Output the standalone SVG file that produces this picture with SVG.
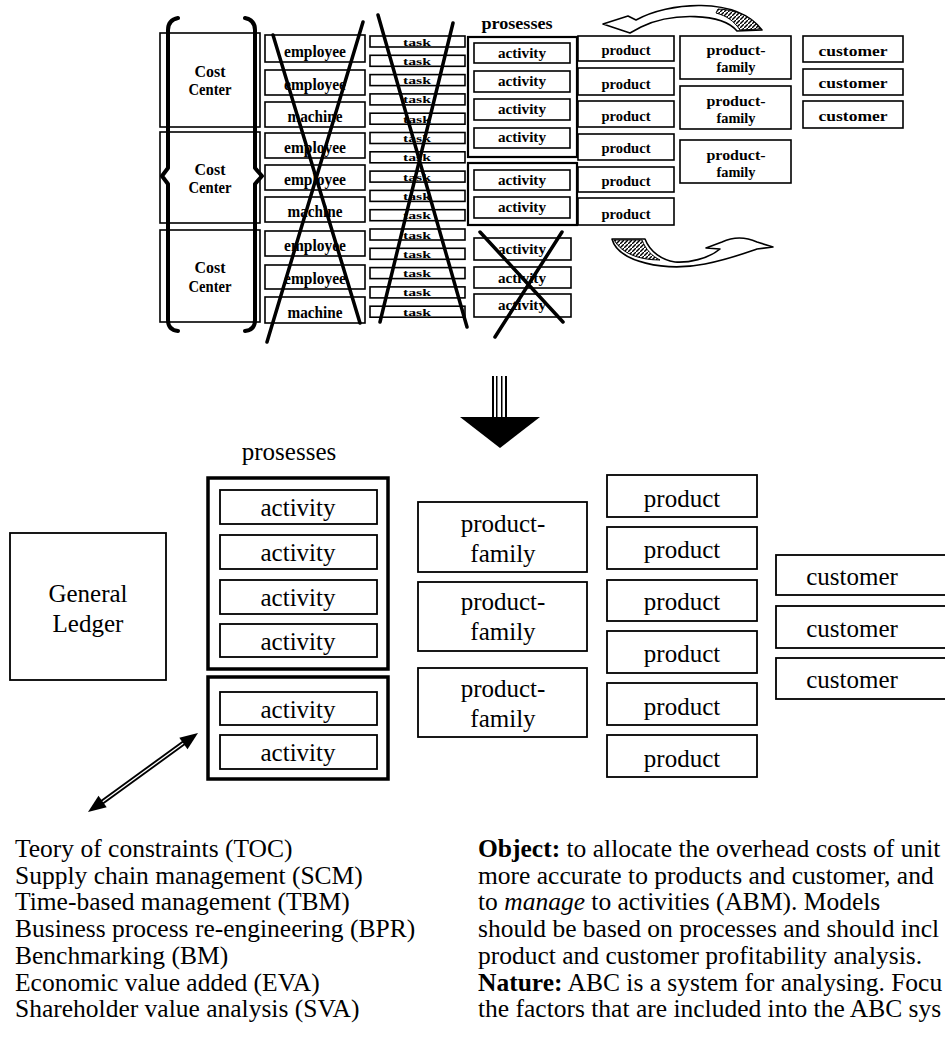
<svg xmlns="http://www.w3.org/2000/svg" width="945" height="1047" viewBox="0 0 945 1047">
  <defs>
    <pattern id="hatch" patternUnits="userSpaceOnUse" width="4" height="4">
      <rect width="4" height="4" fill="#fff"/>
      <path d="M0 4 L4 0" stroke="#000" stroke-width="1.4"/>
    </pattern>
  </defs>
  <style>
    .bx{fill:#fff;stroke:#000;stroke-width:1.6}
    .pb{fill:none;stroke:#000;stroke-width:2.2}
    .pbb{fill:none;stroke:#000;stroke-width:3.5}
    .bb{fill:#fff;stroke:#000;stroke-width:1.8}
    .s{font-family:"Liberation Serif","Times New Roman",serif;font-weight:bold;text-anchor:middle;fill:#000}
    .l{font-family:"Liberation Serif","Times New Roman",serif;font-size:25px;text-anchor:middle;fill:#000}
    .p{font-family:"Liberation Serif","Times New Roman",serif;font-size:25.5px;fill:#000}
    .x{stroke:#000;stroke-width:3.5;stroke-linecap:round;fill:none}
    .br{stroke:#000;stroke-width:4;fill:none;stroke-linecap:round;stroke-linejoin:round}
    .ar{fill:#fff;stroke:#000;stroke-width:1.6;stroke-linejoin:round}
  </style>
  <rect width="945" height="1047" fill="#fff"/>

  <!-- ===== upper model: cost centers → resources → tasks → activities ===== -->
  <g id="cost-centers">
    <rect class="bx" x="160" y="33" width="100" height="94"/>
    <rect class="bx" x="160" y="132" width="100" height="91"/>
    <rect class="bx" x="160" y="230" width="100" height="92"/>
    <text class="s" font-size="16" x="210" y="77" textLength="31" lengthAdjust="spacingAndGlyphs">Cost</text>
    <text class="s" font-size="16" x="210" y="95" textLength="43" lengthAdjust="spacingAndGlyphs">Center</text>
    <text class="s" font-size="16" x="210" y="175" textLength="31" lengthAdjust="spacingAndGlyphs">Cost</text>
    <text class="s" font-size="16" x="210" y="193" textLength="43" lengthAdjust="spacingAndGlyphs">Center</text>
    <text class="s" font-size="16" x="210" y="273" textLength="31" lengthAdjust="spacingAndGlyphs">Cost</text>
    <text class="s" font-size="16" x="210" y="292" textLength="43" lengthAdjust="spacingAndGlyphs">Center</text>
    <!-- braces -->
    <path class="br" d="M178 18 Q168 20 168 30 L168 168 L162 176 L168 184 L168 320 Q168 330 178 331"/>
    <path class="br" d="M245 18 Q255 20 255 30 L255 168 L262 176 L255 184 L255 320 Q255 330 245 331"/>
  </g>

  <g id="resources">
    <rect class="bx" x="265" y="35" width="100" height="27"/>
    <rect class="bx" x="265" y="70" width="100" height="25"/>
    <rect class="bx" x="265" y="102" width="100" height="25"/>
    <rect class="bx" x="265" y="133" width="100" height="25"/>
    <rect class="bx" x="265" y="165" width="100" height="25"/>
    <rect class="bx" x="265" y="197" width="100" height="25"/>
    <rect class="bx" x="265" y="231" width="100" height="25"/>
    <rect class="bx" x="265" y="265" width="100" height="24"/>
    <rect class="bx" x="265" y="297" width="100" height="26"/>
    <text class="s" font-size="17" x="315" y="57" textLength="62" lengthAdjust="spacingAndGlyphs">employee</text>
    <text class="s" font-size="17" x="315" y="90" textLength="62" lengthAdjust="spacingAndGlyphs">employee</text>
    <text class="s" font-size="17" x="315" y="122" textLength="55" lengthAdjust="spacingAndGlyphs">machine</text>
    <text class="s" font-size="17" x="315" y="153" textLength="62" lengthAdjust="spacingAndGlyphs">employee</text>
    <text class="s" font-size="17" x="315" y="185" textLength="62" lengthAdjust="spacingAndGlyphs">employee</text>
    <text class="s" font-size="17" x="315" y="217" textLength="55" lengthAdjust="spacingAndGlyphs">machine</text>
    <text class="s" font-size="17" x="315" y="251" textLength="62" lengthAdjust="spacingAndGlyphs">employee</text>
    <text class="s" font-size="17" x="315" y="284" textLength="62" lengthAdjust="spacingAndGlyphs">employee</text>
    <text class="s" font-size="17" x="315" y="318" textLength="55" lengthAdjust="spacingAndGlyphs">machine</text>
  </g>

  <g id="tasks">
    <rect class="bx" x="370" y="36" width="95" height="11"/>
    <rect class="bx" x="370" y="55.3" width="95" height="11"/>
    <rect class="bx" x="370" y="74.6" width="95" height="11"/>
    <rect class="bx" x="370" y="93.9" width="95" height="11"/>
    <rect class="bx" x="370" y="113.2" width="95" height="11"/>
    <rect class="bx" x="370" y="132.5" width="95" height="11"/>
    <rect class="bx" x="370" y="151.8" width="95" height="11"/>
    <rect class="bx" x="370" y="171.1" width="95" height="11"/>
    <rect class="bx" x="370" y="190.4" width="95" height="11"/>
    <rect class="bx" x="370" y="209.7" width="95" height="11"/>
    <rect class="bx" x="370" y="229" width="95" height="11"/>
    <rect class="bx" x="370" y="248.3" width="95" height="11"/>
    <rect class="bx" x="370" y="267.6" width="95" height="11"/>
    <rect class="bx" x="370" y="286.9" width="95" height="11"/>
    <rect class="bx" x="370" y="306.2" width="95" height="11"/>
    <g class="s" font-size="11">
      <text x="417" y="45.5" textLength="28" lengthAdjust="spacingAndGlyphs">task</text>
      <text x="417" y="64.8" textLength="28" lengthAdjust="spacingAndGlyphs">task</text>
      <text x="417" y="84.1" textLength="28" lengthAdjust="spacingAndGlyphs">task</text>
      <text x="417" y="103.4" textLength="28" lengthAdjust="spacingAndGlyphs">task</text>
      <text x="417" y="122.7" textLength="28" lengthAdjust="spacingAndGlyphs">task</text>
      <text x="417" y="142" textLength="28" lengthAdjust="spacingAndGlyphs">task</text>
      <text x="417" y="161.3" textLength="28" lengthAdjust="spacingAndGlyphs">task</text>
      <text x="417" y="180.6" textLength="28" lengthAdjust="spacingAndGlyphs">task</text>
      <text x="417" y="199.9" textLength="28" lengthAdjust="spacingAndGlyphs">task</text>
      <text x="417" y="219.2" textLength="28" lengthAdjust="spacingAndGlyphs">task</text>
      <text x="417" y="238.5" textLength="28" lengthAdjust="spacingAndGlyphs">task</text>
      <text x="417" y="257.8" textLength="28" lengthAdjust="spacingAndGlyphs">task</text>
      <text x="417" y="277.1" textLength="28" lengthAdjust="spacingAndGlyphs">task</text>
      <text x="417" y="296.4" textLength="28" lengthAdjust="spacingAndGlyphs">task</text>
      <text x="417" y="315.7" textLength="28" lengthAdjust="spacingAndGlyphs">task</text>
    </g>
  </g>

  <g id="processes-top">
    <text class="s" font-size="17" x="517" y="29" textLength="71" lengthAdjust="spacingAndGlyphs">prosesses</text>
    <rect class="pb" x="468" y="37" width="109" height="120"/>
    <rect class="pb" x="468" y="163" width="109" height="62"/>
    <rect class="bx" x="474" y="43" width="96" height="20"/>
    <rect class="bx" x="474" y="71" width="96" height="21"/>
    <rect class="bx" x="474" y="99" width="96" height="21"/>
    <rect class="bx" x="474" y="128" width="96" height="20"/>
    <rect class="bx" x="474" y="170" width="96" height="20"/>
    <rect class="bx" x="474" y="197" width="96" height="21"/>
    <rect class="bx" x="474" y="238" width="97" height="22"/>
    <rect class="bx" x="474" y="267" width="97" height="21"/>
    <rect class="bx" x="474" y="294" width="97" height="23"/>
    <g class="s" font-size="15">
      <text x="522" y="58" textLength="48" lengthAdjust="spacingAndGlyphs">activity</text>
      <text x="522" y="86" textLength="48" lengthAdjust="spacingAndGlyphs">activity</text>
      <text x="522" y="114" textLength="48" lengthAdjust="spacingAndGlyphs">activity</text>
      <text x="522" y="142" textLength="48" lengthAdjust="spacingAndGlyphs">activity</text>
      <text x="522" y="185" textLength="48" lengthAdjust="spacingAndGlyphs">activity</text>
      <text x="522" y="212" textLength="48" lengthAdjust="spacingAndGlyphs">activity</text>
      <text x="522" y="254" textLength="48" lengthAdjust="spacingAndGlyphs">activity</text>
      <text x="522" y="283" textLength="48" lengthAdjust="spacingAndGlyphs">activity</text>
      <text x="522" y="310" textLength="48" lengthAdjust="spacingAndGlyphs">activity</text>
    </g>
  </g>

  <g id="products-top">
    <rect class="bx" x="578" y="36" width="96" height="25"/>
    <rect class="bx" x="578" y="68" width="96" height="27"/>
    <rect class="bx" x="578" y="101" width="96" height="26"/>
    <rect class="bx" x="578" y="134" width="96" height="26"/>
    <rect class="bx" x="578" y="167" width="96" height="25"/>
    <rect class="bx" x="578" y="198" width="96" height="27"/>
    <g class="s" font-size="15">
      <text x="626" y="55" textLength="49" lengthAdjust="spacingAndGlyphs">product</text>
      <text x="626" y="89" textLength="49" lengthAdjust="spacingAndGlyphs">product</text>
      <text x="626" y="121" textLength="49" lengthAdjust="spacingAndGlyphs">product</text>
      <text x="626" y="153" textLength="49" lengthAdjust="spacingAndGlyphs">product</text>
      <text x="626" y="186" textLength="49" lengthAdjust="spacingAndGlyphs">product</text>
      <text x="626" y="219" textLength="49" lengthAdjust="spacingAndGlyphs">product</text>
    </g>
  </g>

  <g id="families-top">
    <rect class="bx" x="680" y="36" width="111" height="43"/>
    <rect class="bx" x="680" y="86" width="111" height="43"/>
    <rect class="bx" x="680" y="140" width="111" height="43"/>
    <g class="s" font-size="15">
      <text x="736" y="55" textLength="59" lengthAdjust="spacingAndGlyphs">product-</text>
      <text x="736" y="72" textLength="39" lengthAdjust="spacingAndGlyphs">family</text>
      <text x="736" y="106" textLength="59" lengthAdjust="spacingAndGlyphs">product-</text>
      <text x="736" y="123" textLength="39" lengthAdjust="spacingAndGlyphs">family</text>
      <text x="736" y="160" textLength="59" lengthAdjust="spacingAndGlyphs">product-</text>
      <text x="736" y="177" textLength="39" lengthAdjust="spacingAndGlyphs">family</text>
    </g>
  </g>

  <g id="customers-top">
    <rect class="bx" x="803" y="36" width="100" height="26"/>
    <rect class="bx" x="803" y="69" width="100" height="26"/>
    <rect class="bx" x="803" y="101" width="100" height="27"/>
    <g class="s" font-size="15">
      <text x="853" y="56" textLength="69" lengthAdjust="spacingAndGlyphs">customer</text>
      <text x="853" y="88" textLength="69" lengthAdjust="spacingAndGlyphs">customer</text>
      <text x="853" y="121" textLength="69" lengthAdjust="spacingAndGlyphs">customer</text>
    </g>
  </g>

  <!-- strike-outs over the columns that disappear -->
  <g id="crossouts">
    <line class="x" x1="273" y1="35" x2="360" y2="323"/>
    <line class="x" x1="363" y1="22" x2="267" y2="342"/>
    <line class="x" x1="378" y1="15" x2="467" y2="327"/>
    <line class="x" x1="453" y1="23" x2="380" y2="322"/>
    <line class="x" x1="480" y1="232" x2="563" y2="322"/>
    <line class="x" x1="562" y1="232" x2="495" y2="337"/>
  </g>

  <!-- ===== lower model: general ledger → activities → products → customers ===== -->
  <g id="general-ledger">
    <rect class="bb" x="10" y="533" width="156" height="147"/>
    <text class="l" x="88" y="602">General</text>
    <text class="l" x="88" y="632">Ledger</text>
  </g>

  <g id="processes">
    <text class="l" font-size="29" x="289" y="460">prosesses</text>
    <rect class="pbb" x="208" y="478" width="180" height="191"/>
    <rect class="pbb" x="208" y="677" width="180" height="102"/>
    <rect class="bb" x="220" y="490" width="157" height="34"/>
    <rect class="bb" x="220" y="535" width="157" height="34"/>
    <rect class="bb" x="220" y="580" width="157" height="34"/>
    <rect class="bb" x="220" y="624" width="157" height="33"/>
    <rect class="bb" x="220" y="692" width="157" height="33"/>
    <rect class="bb" x="220" y="735" width="157" height="34"/>
    <text class="l" x="298" y="516">activity</text>
    <text class="l" x="298" y="561">activity</text>
    <text class="l" x="298" y="606">activity</text>
    <text class="l" x="298" y="650">activity</text>
    <text class="l" x="298" y="718">activity</text>
    <text class="l" x="298" y="761">activity</text>
  </g>

  <g id="product-families">
    <rect class="bb" x="418" y="502" width="169" height="70"/>
    <rect class="bb" x="418" y="582" width="169" height="69"/>
    <rect class="bb" x="418" y="668" width="169" height="69"/>
    <text class="l" x="503" y="532">product-</text>
    <text class="l" x="503" y="562">family</text>
    <text class="l" x="503" y="610">product-</text>
    <text class="l" x="503" y="640">family</text>
    <text class="l" x="503" y="697">product-</text>
    <text class="l" x="503" y="727">family</text>
  </g>

  <g id="products">
    <rect class="bb" x="607" y="475" width="150" height="42"/>
    <rect class="bb" x="607" y="527" width="150" height="42"/>
    <rect class="bb" x="607" y="580" width="150" height="41"/>
    <rect class="bb" x="607" y="631" width="150" height="42"/>
    <rect class="bb" x="607" y="683" width="150" height="42"/>
    <rect class="bb" x="607" y="735" width="150" height="42"/>
    <text class="l" x="682" y="507">product</text>
    <text class="l" x="682" y="558">product</text>
    <text class="l" x="682" y="610">product</text>
    <text class="l" x="682" y="662">product</text>
    <text class="l" x="682" y="715">product</text>
    <text class="l" x="682" y="767">product</text>
  </g>

  <g id="customers">
    <rect class="bb" x="776" y="555" width="180" height="40"/>
    <rect class="bb" x="776" y="606" width="180" height="42"/>
    <rect class="bb" x="776" y="658" width="180" height="41"/>
    <text class="l" x="852" y="585">customer</text>
    <text class="l" x="852" y="637">customer</text>
    <text class="l" x="852" y="688">customer</text>
  </g>

  <!-- arrows -->
  <g id="connectors">
    <!-- curved arrow over the families, pointing back to the products -->
    <path class="ar" d="M636 20 C668 2 736 -4 762 30 L737 31 C722 13 672 12 641 27 L630 33 L603 24 L628 16 Z"/>
    <path d="M718 9 C740 10 755 20 760 29 L740 30 C734 21 727 16 716 13 Z" fill="url(#hatch)" stroke="#000" stroke-width="1"/>
    <!-- curved arrow under the products, pointing right -->
    <path class="ar" d="M612 239 C618 262 665 272 705 264 C730 259 748 252 757 249 L773 247 L757 242 C748 238 735 236 722 242 L706 248 L720 249 C708 259 688 263 675 262 C662 260 650 252 645 239 Z"/>
    <path d="M614 240 L642 240 C646 250 652 256 660 260 C640 260 622 254 614 240 Z" fill="url(#hatch)" stroke="#000" stroke-width="1"/>
    <!-- big down arrow between the two models -->
    <rect x="492" y="376" width="2" height="42" fill="#000"/>
    <rect x="496" y="376" width="1.5" height="42" fill="#000"/>
    <rect x="501" y="376" width="1.5" height="42" fill="#000"/>
    <rect x="505" y="376" width="2" height="42" fill="#000"/>
    <polygon points="460,417 540,417 500,448" fill="#000"/>
    <!-- two-way arrow between activities and the management methods -->
    <line x1="101" y1="803" x2="185" y2="742" stroke="#000" stroke-width="5"/>
    <line x1="101" y1="803" x2="185" y2="742" stroke="#fff" stroke-width="1.3"/>
    <polygon points="198,733 187.5,749.2 179.3,737.8" fill="#000"/>
    <polygon points="88,812 106.7,807.2 98.5,795.8" fill="#000"/>
  </g>

  <g id="methods">
    <text class="p" x="15" y="857">Teory of constraints (TOC)</text>
    <text class="p" x="15" y="883.7">Supply chain management (SCM)</text>
    <text class="p" x="15" y="910.4">Time-based management (TBM)</text>
    <text class="p" x="15" y="937.1">Business process re-engineering (BPR)</text>
    <text class="p" x="15" y="963.8">Benchmarking (BM)</text>
    <text class="p" x="15" y="990.5">Economic value added (EVA)</text>
    <text class="p" x="15" y="1017.2">Shareholder value analysis (SVA)</text>
  </g>

  <g id="description">
    <text class="p" x="478" y="857"><tspan font-weight="bold">Object:</tspan> to allocate the overhead costs of unit</text>
    <text class="p" x="478" y="883.7">more accurate to products and customer, and</text>
    <text class="p" x="478" y="910.4">to <tspan font-style="italic">manage</tspan> to activities (ABM). Models</text>
    <text class="p" x="478" y="937.1">should be based on processes and should incl</text>
    <text class="p" x="478" y="963.8">product and customer profitability analysis.</text>
    <text class="p" x="478" y="990.5"><tspan font-weight="bold">Nature:</tspan> ABC is a system for analysing. Focu</text>
    <text class="p" x="478" y="1017.2">the factors that are included into the ABC sys</text>
  </g>
</svg>
